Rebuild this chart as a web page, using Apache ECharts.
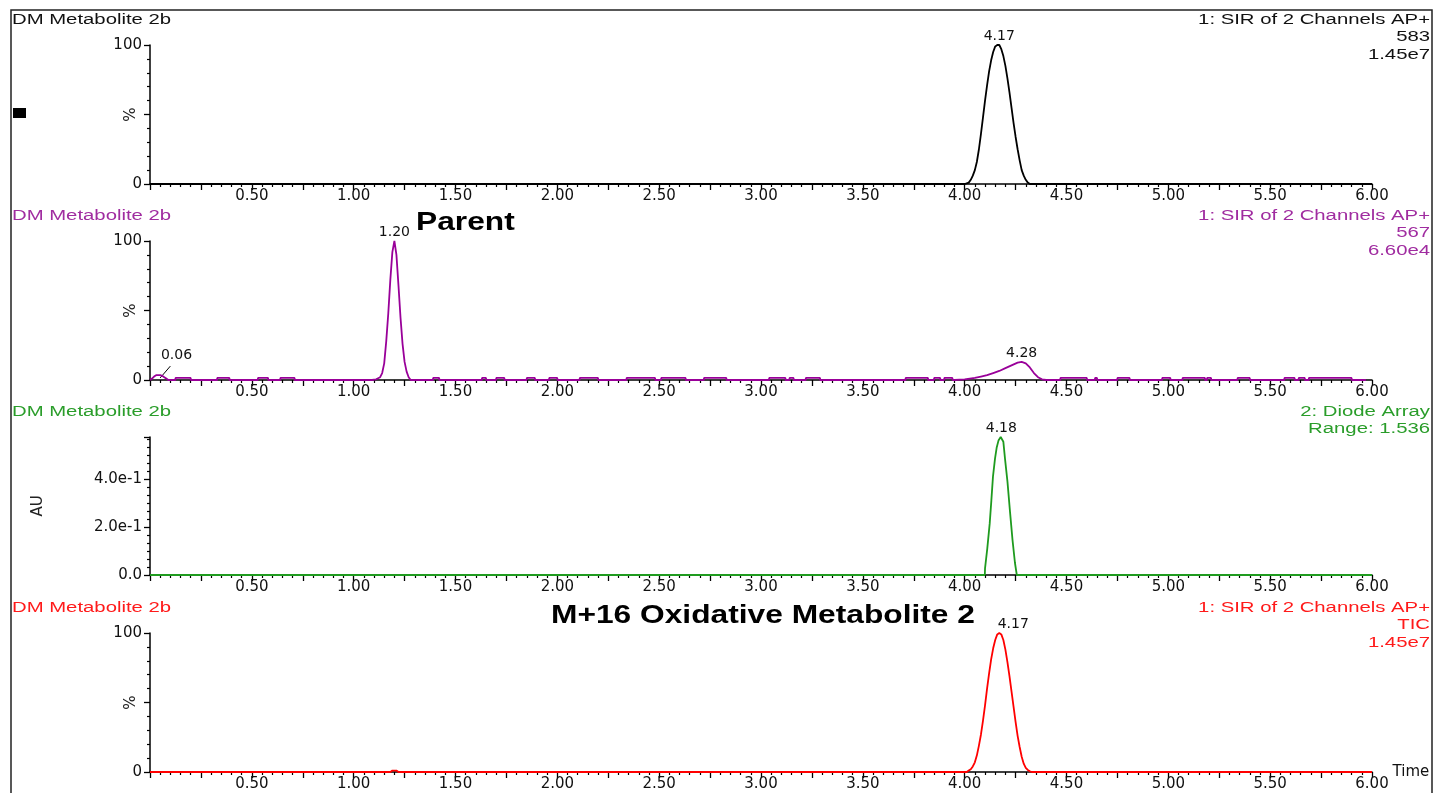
<!DOCTYPE html>
<html>
<head>
<meta charset="utf-8">
<script src="https://cdn.jsdelivr.net/npm/echarts@6/dist/echarts.min.js"></script>
<style>
  html, body { margin: 0; padding: 0; background: #fff; }
  #chart { width: 1437px; height: 793px; }
</style>
</head>
<body>
<div id="chart"></div>
<script>
// ---------------- DATA ----------------
// Panel 1: SIR 583 (black)
const blackTime = [0, 4.00, 4.01, 4.02, 4.03, 4.04, 4.05, 4.06, 4.07, 4.08, 4.09, 4.10, 4.11, 4.12, 4.13, 4.14, 4.15, 4.16, 4.17, 4.18, 4.19, 4.20, 4.21, 4.22, 4.23, 4.24, 4.25, 4.26, 4.27, 4.28, 4.29, 4.30, 4.31, 4.32, 4.33, 6.00];
const blackPct  = [0, 0, 0.5, 1, 3, 6, 10, 16, 25, 36, 48, 60, 71, 81, 89, 95, 99, 100, 100, 97, 92, 85, 76, 66, 55, 44, 34, 25, 17, 10, 6, 3, 1, 0, 0, 0];

// Panel 2: SIR 567 (purple)
const purpleTime = [0, 0.01, 0.02, 0.03, 0.04, 0.05, 0.06, 0.07, 0.08, 0.09,
  1.09, 1.11, 1.13, 1.14, 1.15, 1.16, 1.17, 1.18, 1.19, 1.20, 1.21, 1.22, 1.23, 1.24, 1.25, 1.26, 1.27, 1.28,
  3.95, 4.00, 4.05, 4.08, 4.11, 4.14, 4.17, 4.20, 4.23, 4.26, 4.28, 4.30, 4.32, 4.34, 4.36, 4.38, 4.40, 5.97];
const purplePct = [0, 1, 2.5, 3.5, 3.5, 3.5, 3, 2, 1, 0,
  0, 0.5, 2, 5, 12, 28, 48, 72, 92, 100, 90, 68, 45, 26, 13, 6, 2, 0,
  0, 0.5, 1.5, 2.5, 3.5, 5, 6.5, 8.5, 10.5, 12.5, 13, 12, 9, 5, 2, 0.5, 0, 0];
// baseline noise blips of the purple trace: [start, end] in minutes, with their height in %
const purpleNoiseStart = [0.125, 0.33, 0.53, 0.64, 1.39, 1.63, 1.70, 1.85, 1.96, 2.11, 2.34, 2.51, 2.72, 3.04, 3.14, 3.22, 3.71, 3.85, 3.90, 4.47, 4.64, 4.75, 4.97, 5.07, 5.19, 5.34, 5.57, 5.64, 5.69];
const purpleNoiseEnd   = [0.20, 0.39, 0.58, 0.71, 1.42, 1.65, 1.74, 1.89, 2.00, 2.20, 2.48, 2.63, 2.83, 3.12, 3.16, 3.29, 3.82, 3.88, 3.94, 4.60, 4.65, 4.81, 5.01, 5.18, 5.21, 5.40, 5.62, 5.67, 5.90];
const purpleNoiseHeight = 1.5;

// Panel 3: Diode array (green), AU
const greenTime = [0, 4.099, 4.100, 4.111, 4.123, 4.131, 4.139, 4.149, 4.157, 4.166, 4.177, 4.190, 4.198, 4.210, 4.223, 4.235, 4.247, 4.256, 6.00];
const greenAU   = [0, 0, 0.028, 0.11, 0.215, 0.31, 0.41, 0.485, 0.53, 0.56, 0.575, 0.555, 0.485, 0.39, 0.26, 0.145, 0.05, 0, 0];

// Panel 4: TIC (red)
const redTime = [0, 1.18, 1.19, 1.21, 1.22, 4.01, 4.02, 4.03, 4.04, 4.05, 4.06, 4.07, 4.08, 4.09, 4.10, 4.11, 4.12, 4.13, 4.14, 4.15, 4.16, 4.17, 4.18, 4.19, 4.20, 4.21, 4.22, 4.23, 4.24, 4.25, 4.26, 4.27, 4.28, 4.29, 4.30, 4.31, 4.32, 4.33, 4.34, 4.35, 6.00];
const redPct  = [0, 0, 1, 1, 0, 0, 1, 2, 4, 7, 12, 19, 27, 37, 48, 60, 71, 81, 89, 95, 99, 100, 99, 95, 88, 79, 69, 58, 47, 36, 26, 18, 11, 6, 3, 1.5, 0.5, 0, 0, 0, 0];

// Peak annotations
const peakLabelTime1 = [4.17], peakLabelVal1 = [100], peakLabelText1 = ['4.17'];
const peakLabelTime2 = [1.20, 4.28], peakLabelVal2 = [100, 13], peakLabelText2 = ['1.20', '4.28'];
const smallPeakText = '0.06';
const peakLabelTime3 = [4.18], peakLabelVal3 = [0.575], peakLabelText3 = ['4.18'];
const peakLabelTime4 = [4.17], peakLabelVal4 = [100], peakLabelText4 = ['4.17'];

// Texts
const sampleName = 'DM Metabolite 2b';
const panelInfo = [
  ['1: SIR of 2 Channels AP+', '583', '1.45e7'],
  ['1: SIR of 2 Channels AP+', '567', '6.60e4'],
  ['2: Diode Array', 'Range: 1.536'],
  ['1: SIR of 2 Channels AP+', 'TIC', '1.45e7']
];
const calloutParent = 'Parent';
const calloutMetabolite = 'M+16 Oxidative Metabolite 2';
const xAxisName = 'Time';
const pctAxisName = '%';
const auAxisName = 'AU';

// ---------------- BUILD ----------------
const zip = (a, b) => a.map((v, i) => [v, b[i]]);
const purpleData = zip(purpleTime, purplePct);
purpleNoiseStart.forEach((s, i) => {
  const e = purpleNoiseEnd[i];
  purpleData.push([s, 0], [s, purpleNoiseHeight], [e, purpleNoiseHeight], [e, 0]);
});
purpleData.sort((p, q) => p[0] - q[0]);

const COLORS = ['#000000', '#990099', '#1f9b1f', '#ff0000'];
const TEXT_COLORS = ['#111111', '#a02ca0', '#2a9d2a', '#ff1a1a'];
const gridTops = [45, 241, 437, 633];
const gridHeights = [139, 139, 138, 139];

const AXIS_FONT = 'DejaVu Sans';
const TXT_FONT = 'Liberation Sans';

function xAxisFor(i) {
  return {
    type: 'value', gridIndex: i, min: 0, max: 6, interval: 0.25,
    name: i === 3 ? xAxisName : '',
    nameLocation: 'end', nameGap: 11,
    nameTextStyle: { fontFamily: AXIS_FONT, fontSize: 15, color: '#111', verticalAlign: 'middle' },
    axisLine: { lineStyle: { color: '#000', width: 1.5 } },
    axisTick: { length: 6, lineStyle: { color: '#000', width: 1.3 } },
    minorTick: { show: true, splitNumber: 5, length: 3, lineStyle: { color: '#000', width: 1.2 } },
    splitLine: { show: false },
    minorSplitLine: { show: false },
    axisLabel: {
      margin: 5, fontFamily: AXIS_FONT, fontSize: 15, color: '#111',
      formatter: v => (v > 0 && Math.abs(v * 2 - Math.round(v * 2)) < 1e-6) ? v.toFixed(2) : ''
    }
  };
}
function yPctAxis(i) {
  return {
    type: 'value', gridIndex: i, min: 0, max: 100, interval: 50,
    name: pctAxisName, nameLocation: 'middle', nameGap: 11, nameMoveOverlap: false,
    nameTextStyle: { fontFamily: AXIS_FONT, fontSize: 15, color: '#222' },
    axisLine: { show: true, lineStyle: { color: '#000', width: 1.5 } },
    axisTick: { show: true, length: 6, lineStyle: { color: '#000', width: 1.3 } },
    minorTick: { show: true, splitNumber: 5, length: 3, lineStyle: { color: '#000', width: 1.2 } },
    splitLine: { show: false },
    axisLabel: {
      margin: 8, fontFamily: AXIS_FONT, fontSize: 15, color: '#111',
      formatter: v => (v === 50 ? '' : String(v))
    }
  };
}
function yAuAxis(i) {
  return {
    type: 'value', gridIndex: i, min: 0, max: 0.575, interval: 0.2,
    name: auAxisName, nameLocation: 'middle', nameGap: 104,
    nameTextStyle: { fontFamily: AXIS_FONT, fontSize: 15, color: '#222' },
    axisLine: { show: true, lineStyle: { color: '#000', width: 1.5 } },
    axisTick: { show: true, length: 6, lineStyle: { color: '#000', width: 1.3 } },
    minorTick: { show: true, splitNumber: 6, length: 3, lineStyle: { color: '#000', width: 1.2 } },
    splitLine: { show: false },
    axisLabel: {
      margin: 8, fontFamily: AXIS_FONT, fontSize: 15, color: '#111', showMaxLabel: false,
      formatter: v => (v === 0 ? '0.0' : (Math.abs(v - 0.2) < 1e-6 || Math.abs(v - 0.4) < 1e-6) ? v.toExponential(1) : '')
    }
  };
}

function peakMarks(times, vals, texts, extra) {
  return {
    symbol: 'circle', symbolSize: 0, silent: true,
    label: { show: true, position: 'top', distance: 2, fontFamily: AXIS_FONT, fontSize: 14, color: '#111', formatter: p => p.name },
    data: times.map((t, k) => Object.assign({ coord: [t, vals[k]], name: texts[k] }, (extra && extra[k]) || {}))
  };
}

const LW = 1.8;
const series = [
  {
    type: 'line', xAxisIndex: 0, yAxisIndex: 0, data: zip(blackTime, blackPct),
    showSymbol: false, lineStyle: { color: COLORS[0], width: LW }, z: 5, animation: false,
    markPoint: peakMarks(peakLabelTime1, peakLabelVal1, peakLabelText1)
  },
  {
    type: 'line', xAxisIndex: 1, yAxisIndex: 1, data: purpleData,
    showSymbol: false, lineStyle: { color: COLORS[1], width: LW }, z: 5, animation: false,
    markPoint: {
      symbol: 'circle', symbolSize: 0, silent: true,
      label: { show: true, position: 'top', distance: 2, fontFamily: AXIS_FONT, fontSize: 14, color: '#111', formatter: p => p.name },
      data: peakLabelTime2.map((t, k) => ({ coord: [t, peakLabelVal2[k]], name: peakLabelText2[k] }))
        .concat([{ coord: [0.13, 11], name: smallPeakText }])
    },
    markLine: {
      silent: true, symbol: ['none', 'none'], animation: false,
      lineStyle: { color: '#000', width: 1, type: 'solid' },
      label: { show: false },
      data: [[{ coord: [0.05, 1.5] }, { coord: [0.10, 10] }]]
    }
  },
  {
    type: 'line', xAxisIndex: 2, yAxisIndex: 2, data: zip(greenTime, greenAU),
    showSymbol: false, lineStyle: { color: COLORS[2], width: LW }, z: 5, animation: false,
    markPoint: peakMarks(peakLabelTime3, peakLabelVal3, peakLabelText3)
  },
  {
    type: 'line', xAxisIndex: 3, yAxisIndex: 3, data: zip(redTime, redPct),
    showSymbol: false, lineStyle: { color: COLORS[3], width: LW }, z: 5, animation: false,
    markPoint: peakMarks(peakLabelTime4, peakLabelVal4, peakLabelText4, [{ label: { offset: [14, 0] } }])
  }
];

// Graphic texts (panel headers, right-hand info, callouts, frame)
const graphics = [];
const panelTitleY = [20, 216, 412, 608];
panelTitleY.forEach((y, i) => {
  graphics.push({
    type: 'text', x: 12, y: y, scaleX: 1.45, z: 10,
    style: { text: sampleName, x: 0, y: 0, align: 'left', verticalAlign: 'middle',
      fontFamily: TXT_FONT, fontSize: 14, fill: TEXT_COLORS[i] }
  });
  panelInfo[i].forEach((line, k) => {
    graphics.push({
      type: 'text', x: 1430, y: y + k * 17.5, scaleX: 1.45, z: 10,
      style: { text: line, x: 0, y: 0, align: 'right', verticalAlign: 'middle',
        fontFamily: TXT_FONT, fontSize: 14, fill: TEXT_COLORS[i] }
    });
  });
});
graphics.push({
  type: 'text', x: 416, y: 223, scaleX: 1.22, z: 10,
  style: { text: calloutParent, x: 0, y: 0, align: 'left', verticalAlign: 'middle',
    fontFamily: TXT_FONT, fontSize: 26, fontWeight: 'bold', fill: '#000' }
});
graphics.push({
  type: 'text', x: 551, y: 616, scaleX: 1.22, z: 10,
  style: { text: calloutMetabolite, x: 0, y: 0, align: 'left', verticalAlign: 'middle',
    fontFamily: TXT_FONT, fontSize: 26, fontWeight: 'bold', fill: '#000' }
});
// small black marker square
graphics.push({ type: 'rect', z: 10, shape: { x: 13, y: 108, width: 13, height: 10 }, style: { fill: '#000' } });
// frame
graphics.push({ type: 'polyline', z: 10, shape: { points: [[11, 793], [11, 10], [1432, 10], [1432, 793]] },
  style: { stroke: '#222', lineWidth: 1.5, fill: null } });

const option = {
  animation: false,
  backgroundColor: '#ffffff',
  grid: gridTops.map((t, i) => ({ left: 150, right: 65, top: t, height: gridHeights[i], containLabel: false })),
  xAxis: [0, 1, 2, 3].map(xAxisFor),
  yAxis: [yPctAxis(0), yPctAxis(1), yAuAxis(2), yPctAxis(3)],
  series: series,
  graphic: graphics
};

const chart = echarts.init(document.getElementById('chart'), null, { renderer: 'canvas' });
chart.setOption(option);
</script>
</body>
</html>
